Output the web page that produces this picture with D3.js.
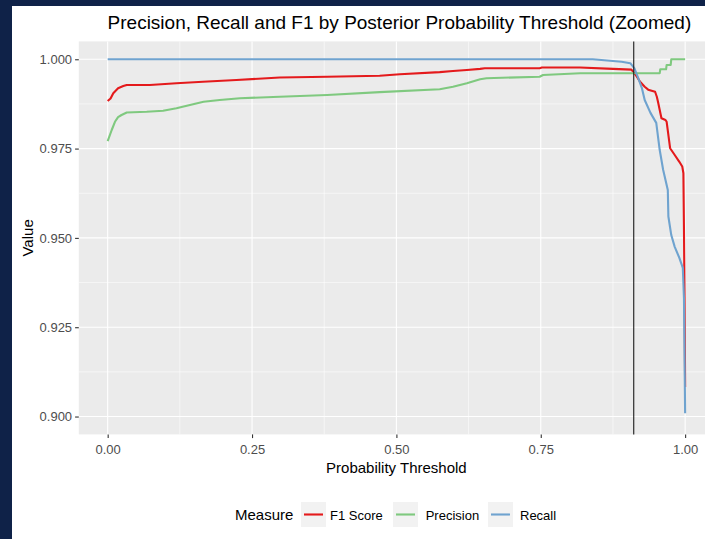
<!DOCTYPE html>
<html>
<head>
<meta charset="utf-8">
<script src="https://cdn.jsdelivr.net/npm/d3@7"></script>
<style>
	body { margin: 0; background: #fff; }
	svg { display: block; font-family: "Liberation Sans", Arial, sans-serif; }
</style>
</head>
<body>
<script>
	// threshold / value pairs
	var f1Thr = [0, 0.005, 0.0097, 0.018, 0.027, 0.033, 0.073, 0.119, 0.165, 0.223, 0.298, 0.38, 0.471, 0.506, 0.575, 0.598, 0.622, 0.645, 0.653, 0.748, 0.752, 0.818, 0.875, 0.907, 0.915, 0.922, 0.930, 0.936, 0.948, 0.951, 0.953, 0.959, 0.966, 0.968, 0.970, 0.974, 0.982, 0.990, 0.995, 0.997, 0.998, 0.999, 1.0];
	var f1Val = [0.9883, 0.9890, 0.9905, 0.9919, 0.9925, 0.9928, 0.9928, 0.9933, 0.9937, 0.9942, 0.9949, 0.9951, 0.9954, 0.9958, 0.9964, 0.9967, 0.9970, 0.9973, 0.9975, 0.9975, 0.9977, 0.9977, 0.9973, 0.9971, 0.9955, 0.9937, 0.9923, 0.9915, 0.9909, 0.9895, 0.9881, 0.9835, 0.9830, 0.9825, 0.9800, 0.9751, 0.9732, 0.9713, 0.9700, 0.9681, 0.9522, 0.9335, 0.9083];

	var precThr = [0, 0.007, 0.0126, 0.018, 0.024, 0.033, 0.0675, 0.096, 0.119, 0.1425, 0.166, 0.194, 0.229, 0.298, 0.38, 0.471, 0.575, 0.598, 0.622, 0.645, 0.656, 0.748, 0.754, 0.818, 0.87, 0.956, 0.957, 0.967, 0.968, 0.975, 0.976, 1.0];
	var precVal = [0.9771, 0.9802, 0.9825, 0.9838, 0.9844, 0.9851, 0.9853, 0.9856, 0.9863, 0.9872, 0.9881, 0.9886, 0.9891, 0.9895, 0.9900, 0.9908, 0.9916, 0.9923, 0.9933, 0.9944, 0.9947, 0.9951, 0.9956, 0.9961, 0.9961, 0.9961, 0.9972, 0.9972, 0.9984, 0.9984, 1.0, 1.0];

	var recThr = [0, 0.84, 0.87, 0.89, 0.905, 0.912, 0.918, 0.925, 0.930, 0.940, 0.950, 0.956, 0.962, 0.970, 0.971, 0.976, 0.982, 0.990, 0.996, 0.998, 1.0];
	var recVal = [1.0, 1.0, 0.9996, 0.9993, 0.9989, 0.9975, 0.9951, 0.9920, 0.9886, 0.9850, 0.9822, 0.9746, 0.969, 0.9634, 0.9560, 0.9508, 0.9475, 0.9444, 0.9416, 0.9330, 0.9009];

	var measures = ['F1 Score', 'Precision', 'Recall'];
	var colors = ['#e41a1c', '#7fc97f', '#6fa3cf'];
	var xTicks = [0, 0.25, 0.5, 0.75, 1];
	var xTickLabels = ['0.00', '0.25', '0.50', '0.75', '1.00'];
	var yTicks = [0.9, 0.925, 0.95, 0.975, 1.0];
	var yTickLabels = ['0.900', '0.925', '0.950', '0.975', '1.000'];
	var cutoff = 0.911;

	var svgWidth = 705;
	var svgHeight = 539;

	var panel = {left: 78.8, right: 714, top: 41.4, bottom: 434.4};

	var x = d3.scaleLinear().domain([-0.05, 1.05]).range([panel.left, panel.right]);
	var y = d3.scaleLinear().domain([0.895, 1.005]).range([panel.bottom, panel.top]);

	function zip(t, v) {
		return t.map(function(d, i) { return [d, v[i]]; });
	}
	var series = [zip(f1Thr, f1Val), zip(precThr, precVal), zip(recThr, recVal)];

	var svg = d3.select('body').append('svg')
		.attr('width', svgWidth)
		.attr('height', svgHeight);

	// dark frame on left / top
	svg.append('rect').attr('x', 0).attr('y', 0).attr('width', svgWidth).attr('height', 6).attr('fill', '#0f2248');
	svg.append('rect').attr('x', 0).attr('y', 0).attr('width', 12).attr('height', svgHeight).attr('fill', '#0f2248');

	svg.append('rect')
		.attr('x', panel.left).attr('y', panel.top)
		.attr('width', panel.right - panel.left)
		.attr('height', panel.bottom - panel.top)
		.attr('fill', '#ebebeb');

	var xMinor = [0.125, 0.375, 0.625, 0.875];
	var yMinor = [0.9125, 0.9375, 0.9625, 0.9875];

	var grid = svg.append('g').attr('stroke', '#fff');
	grid.selectAll('.xminor').data(xMinor).enter().append('line')
		.attr('x1', function(d) { return x(d); }).attr('x2', function(d) { return x(d); })
		.attr('y1', panel.top).attr('y2', panel.bottom)
		.attr('stroke-width', 0.55);
	grid.selectAll('.yminor').data(yMinor).enter().append('line')
		.attr('y1', function(d) { return y(d); }).attr('y2', function(d) { return y(d); })
		.attr('x1', panel.left).attr('x2', panel.right)
		.attr('stroke-width', 0.55);
	grid.selectAll('.xmajor').data(xTicks).enter().append('line')
		.attr('x1', function(d) { return x(d); }).attr('x2', function(d) { return x(d); })
		.attr('y1', panel.top).attr('y2', panel.bottom)
		.attr('stroke-width', 1.1);
	grid.selectAll('.ymajor').data(yTicks).enter().append('line')
		.attr('y1', function(d) { return y(d); }).attr('y2', function(d) { return y(d); })
		.attr('x1', panel.left).attr('x2', panel.right)
		.attr('stroke-width', 1.1);

	var line = d3.line()
		.x(function(d) { return x(d[0]); })
		.y(function(d) { return y(d[1]); });

	svg.selectAll('.series').data(series).enter().append('path')
		.attr('d', line)
		.attr('fill', 'none')
		.attr('stroke', function(d, i) { return colors[i]; })
		.attr('stroke-width', 2.1)
		.attr('stroke-linejoin', 'round');

	svg.append('line')
		.attr('x1', x(cutoff)).attr('x2', x(cutoff))
		.attr('y1', panel.top).attr('y2', panel.bottom)
		.attr('stroke', '#1a1a1a').attr('stroke-width', 1.1);

	// axes
	var xAxis = d3.axisBottom(x).tickValues(xTicks).tickSize(3.7).tickPadding(6.5)
		.tickFormat(function(d, i) { return xTickLabels[i]; });
	var gx = svg.append('g').attr('transform', 'translate(0,' + panel.bottom + ')').call(xAxis);
	var yAxis = d3.axisLeft(y).tickValues(yTicks).tickSize(3.7).tickPadding(3)
		.tickFormat(function(d, i) { return yTickLabels[i]; });
	var gy = svg.append('g').attr('transform', 'translate(' + panel.left + ',0)').call(yAxis);

	[gx, gy].forEach(function(g) {
		g.select('.domain').remove();
		g.selectAll('.tick line').attr('stroke', '#333').attr('stroke-width', 1.1);
		g.selectAll('.tick text').attr('fill', '#4d4d4d').style('font-size', '13px')
			.style('font-family', '"Liberation Sans", Arial, sans-serif');
	});

	svg.append('text')
		.attr('x', (panel.left + panel.right) / 2 + 3)
		.attr('y', 29)
		.attr('text-anchor', 'middle')
		.style('font-size', '19px')
		.attr('fill', '#000')
		.text('Precision, Recall and F1 by Posterior Probability Threshold (Zoomed)');

	svg.append('text')
		.attr('x', (panel.left + panel.right) / 2)
		.attr('y', 473)
		.attr('text-anchor', 'middle')
		.style('font-size', '15px')
		.text('Probability Threshold');

	svg.append('text')
		.attr('transform', 'translate(33,' + ((panel.top + panel.bottom) / 2) + ') rotate(-90)')
		.attr('text-anchor', 'middle')
		.style('font-size', '15px')
		.text('Value');

	// legend
	var legend = svg.append('g');
	legend.append('text').attr('x', 235).attr('y', 520).style('font-size', '15px').text('Measure');
	var keyX = [301, 393, 488];
	var labelX = [330, 425.7, 520];
	var keys = legend.selectAll('.key').data(measures).enter().append('g');
	keys.append('rect')
		.attr('x', function(d, i) { return keyX[i]; })
		.attr('y', 502).attr('width', 25).attr('height', 25)
		.attr('fill', '#f2f2f2');
	keys.append('line')
		.attr('x1', function(d, i) { return keyX[i] + 3; })
		.attr('x2', function(d, i) { return keyX[i] + 22; })
		.attr('y1', 514.5).attr('y2', 514.5)
		.attr('stroke', function(d, i) { return colors[i]; })
		.attr('stroke-width', 2.1);
	keys.append('text')
		.attr('x', function(d, i) { return labelX[i]; })
		.attr('y', 519.5)
		.style('font-size', '13px')
		.text(function(d) { return d; });
</script>
</body>
</html>
